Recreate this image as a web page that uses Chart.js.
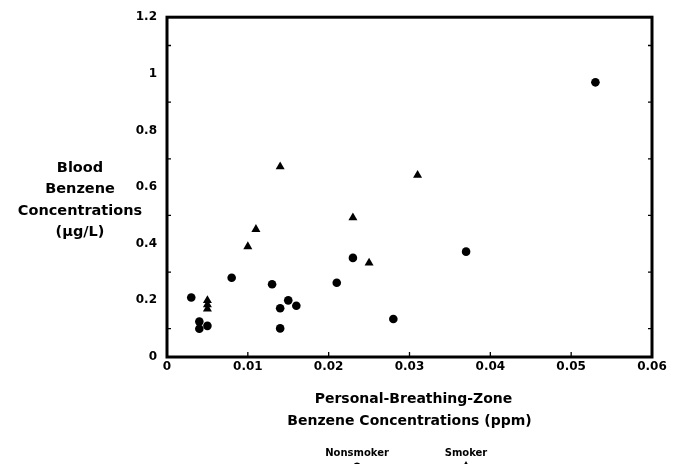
<!DOCTYPE html>
<html>
<head>
<meta charset="UTF-8">
<title>Blood benzene vs breathing-zone benzene</title>
<script src="https://cdn.jsdelivr.net/npm/chart.js@4.4.1/dist/chart.umd.min.js"></script>
<style>
  html, body { margin: 0; padding: 0; background: #fff; }
  #wrap { width: 677px; height: 464px; }
</style>
</head>
<body>
<div id="wrap"><canvas id="chart"></canvas></div>
<script>
// personal breathing-zone benzene (ppm) vs blood benzene (ug/L)
var nonsmokerX = [0.003, 0.004, 0.004, 0.005, 0.008, 0.013, 0.014, 0.014, 0.015, 0.016, 0.021, 0.023, 0.028, 0.037, 0.053];
var nonsmokerY = [0.21, 0.125, 0.10, 0.11, 0.28, 0.257, 0.172, 0.101, 0.20, 0.181, 0.262, 0.35, 0.134, 0.372, 0.97];
var smokerX = [0.005, 0.005, 0.005, 0.010, 0.011, 0.014, 0.023, 0.025, 0.031];
var smokerY = [0.20, 0.185, 0.17, 0.39, 0.451, 0.672, 0.492, 0.332, 0.642];

var xTickLabels = ['0', '0.01', '0.02', '0.03', '0.04', '0.05', '0.06'];
var yTickLabels = { '0': '0', '0.2': '0.2', '0.4': '0.4', '0.6': '0.6', '0.8': '0.8', '1': '1', '1.2': '1.2' };
var yTitleLines = ['Blood', 'Benzene', 'Concentrations', '(\u00b5g/L)'];
var xTitleLines = ['Personal-Breathing-Zone', 'Benzene Concentrations (ppm)'];
var legendNames = ['Nonsmoker', 'Smoker'];

function toPoints(xs, ys) {
    var pts = [];
    for (var i = 0; i < xs.length; i++) pts.push({ x: xs[i], y: ys[i] });
    return pts;
}

var FONT = '"DejaVu Sans", Verdana, sans-serif';

// frame, inward tick marks, titles and legend
var decorations = {
    id: 'decorations',
    afterDraw: function (chart) {
        var ctx = chart.ctx;
        var a = chart.chartArea;
        var xs = chart.scales.x, ys = chart.scales.y;
        ctx.save();
        ctx.strokeStyle = '#000';
        ctx.lineWidth = 3;
        ctx.strokeRect(a.left, a.top, a.right - a.left, a.bottom - a.top);

        ctx.lineWidth = 1.3;
        ctx.beginPath();
        for (var v = 0.1; v < 1.2; v += 0.2) {
            var py = ys.getPixelForValue(v);
            ctx.moveTo(a.left, py); ctx.lineTo(a.left + 4, py);
            ctx.moveTo(a.right, py); ctx.lineTo(a.right - 4, py);
        }
        for (var k = 1; k <= 5; k++) {
            var px = xs.getPixelForValue(k * 0.01);
            ctx.moveTo(px, a.bottom); ctx.lineTo(px, a.bottom - 5);
        }
        ctx.stroke();

        ctx.fillStyle = '#000';
        ctx.textAlign = 'center';
        ctx.textBaseline = 'middle';

        // horizontal y title
        ctx.font = 'bold 14.5px ' + FONT;
        for (var i = 0; i < yTitleLines.length; i++) {
            ctx.fillText(yTitleLines[i], 80, 168 + i * 21.5);
        }

        // x title, two lines under the axis
        var cx = (a.left + a.right) / 2;
        ctx.font = 'bold 14px ' + FONT;
        ctx.fillText(xTitleLines[0], cx + 4, 399);
        ctx.fillText(xTitleLines[1], cx, 421);

        // legend: label above marker
        ctx.font = 'bold 10px ' + FONT;
        var lx = [357, 466];
        ctx.fillText(legendNames[0], lx[0], 453);
        ctx.fillText(legendNames[1], lx[1], 453);
        ctx.beginPath();
        ctx.arc(lx[0], 466, 3.5, 0, Math.PI * 2);
        ctx.fill();
        ctx.beginPath();
        ctx.moveTo(lx[1], 461); ctx.lineTo(lx[1] + 4, 468); ctx.lineTo(lx[1] - 4, 468);
        ctx.closePath();
        ctx.fill();
        ctx.restore();
    }
};

new Chart(document.getElementById('chart'), {
    type: 'scatter',
    data: {
        datasets: [
            {
                label: legendNames[0],
                data: toPoints(nonsmokerX, nonsmokerY),
                pointStyle: 'circle',
                pointRadius: 4.3,
                backgroundColor: '#000',
                borderColor: '#000',
                borderWidth: 0
            },
            {
                label: legendNames[1],
                data: toPoints(smokerX, smokerY),
                pointStyle: 'triangle',
                pointRadius: 5.2,
                backgroundColor: '#000',
                borderColor: '#000',
                borderWidth: 0
            }
        ]
    },
    options: {
        responsive: true,
        maintainAspectRatio: false,
        animation: false,
        layout: { padding: { top: 17, right: 25, left: 0, bottom: 0 } },
        plugins: {
            legend: { display: false },
            tooltip: { enabled: false }
        },
        scales: {
            x: {
                type: 'linear',
                min: 0,
                max: 0.06,
                grid: { display: false, drawTicks: false },
                border: { display: false },
                ticks: {
                    stepSize: 0.01,
                    padding: 3,
                    maxRotation: 0,
                    color: '#000',
                    font: { family: FONT, size: 12, weight: 'bold' },
                    callback: function (val, idx) { return xTickLabels[idx]; }
                },
                afterFit: function (scale) { scale.height = 107; }
            },
            y: {
                type: 'linear',
                min: 0,
                max: 1.2,
                grid: { display: false, drawTicks: false },
                border: { display: false },
                ticks: {
                    stepSize: 0.1,
                    padding: 10,
                    color: '#000',
                    font: { family: FONT, size: 12, weight: 'bold' },
                    callback: function (val) {
                        var key = String(Math.round(val * 10) / 10);
                        return yTickLabels[key] || '';
                    }
                },
                afterFit: function (scale) { scale.width = 167; }
            }
        }
    },
    plugins: [decorations]
});
</script>
</body>
</html>
